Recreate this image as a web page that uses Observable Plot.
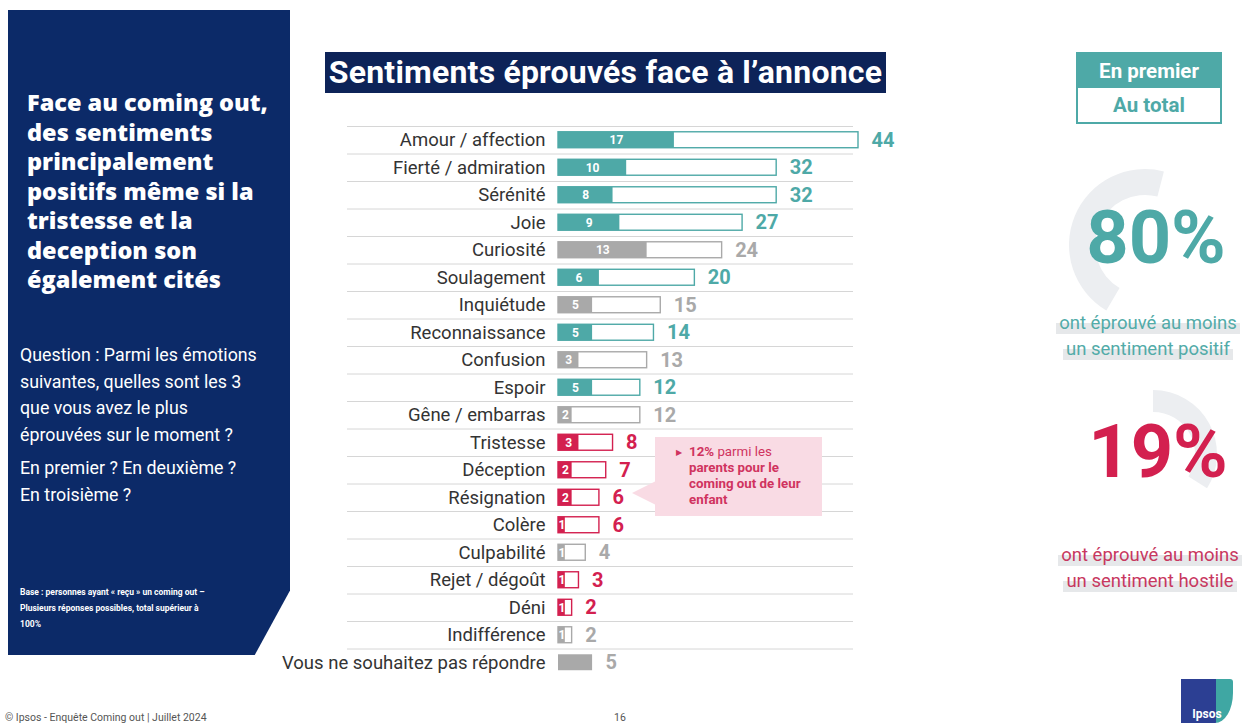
<!DOCTYPE html>
<html><head><meta charset="utf-8">
<script src="https://cdn.jsdelivr.net/npm/d3@7"></script>
<script src="https://cdn.jsdelivr.net/npm/@observablehq/plot@0.6"></script>
<style>
html,body{margin:0;padding:0;background:#fff;}
#page{position:relative;width:1258px;height:725px;overflow:hidden;font-family:Roboto,"Open Sans",sans-serif;}
.abs{position:absolute;}
#panel{left:8px;top:10px;width:282px;height:645px;background:#0c2a68;clip-path:polygon(0 0,100% 0,100% 90%,87.5% 100%,0 100%);}
#ptitle{left:27px;top:88px;width:262px;color:#fff;font-family:"Open Sans",sans-serif;font-weight:800;font-size:23.5px;line-height:29.5px;}
#pquest{left:20px;top:342px;width:268px;color:#fff;font-size:17.8px;line-height:26.5px;}
#pquest p{margin:0 0 7px 0;}
#pbase{left:20px;top:584px;width:262px;color:#fff;font-size:8.5px;line-height:16px;font-weight:700;}
#title{left:325px;top:52px;width:561px;height:41px;background:#0d2358;color:#fff;font-weight:700;font-size:32px;line-height:41px;text-align:center;white-space:nowrap;letter-spacing:0.2px;}
#legend{left:1076px;top:52px;width:146px;height:72px;box-sizing:border-box;border:2px solid #4ea9a7;font-weight:700;font-size:20.5px;text-align:center;}
#legend .a{height:34px;line-height:34px;background:#4ea9a7;color:#fff;}
#legend .b{height:34px;line-height:34px;color:#4ea9a7;}
.big{width:220px;text-align:center;font-weight:700;font-size:74px;line-height:72px;}
.sub{width:240px;text-align:center;font-size:18.5px;line-height:26px;}
.sub span{background:linear-gradient(to bottom,transparent 52%,#e6e8ea 52%);padding:0 3px;}
#callout{left:655px;top:437px;width:167px;height:79px;background:#f9dbe4;color:#d0335f;font-size:13.3px;line-height:16px;box-sizing:border-box;padding:7px 4px 0 34px;}
#callout .arr{position:absolute;left:21px;top:8px;font-size:8px;}
#pointer{left:632px;top:481px;width:0;height:0;border-top:12px solid transparent;border-bottom:12px solid transparent;border-right:24px solid #f9dbe4;}
#foot{left:5px;top:711px;font-size:10.5px;color:#555;}
#pnum{left:614px;top:711px;font-size:10.5px;color:#555;}
#logo{left:1181px;top:679px;width:52px;height:44px;background:linear-gradient(90deg,#2c3f93 68%,#3fa7a3 68%);border-top-right-radius:3px;border-bottom-right-radius:18px 30px;color:#fff;font-weight:700;font-size:12px;text-align:center;}
#logo span{position:absolute;left:0;right:0;bottom:2px;}
#chart{left:260px;top:120px;}
#deco{left:0;top:0;}
</style>
</head><body>
<div id="page">
  <div id="panel" class="abs"></div>
  <div id="ptitle" class="abs">Face au coming out,<br>des sentiments<br>principalement<br>positifs même si la<br>tristesse et la<br>deception son<br>également cités</div>
  <div id="pquest" class="abs"><p>Question : Parmi les émotions<br>suivantes, quelles sont les 3<br>que vous avez le plus<br>éprouvées sur le moment ?</p><p>En premier ? En deuxième ?<br>En troisième ?</p></div>
  <div id="pbase" class="abs">Base : personnes ayant « reçu » un coming out –<br>Plusieurs réponses possibles, total supérieur à<br>100%</div>
  <div id="title" class="abs">Sentiments éprouvés face à l’annonce</div>
  <div id="legend" class="abs"><div class="a">En premier</div><div class="b">Au total</div></div>
  <svg id="deco" class="abs" width="1258" height="725"></svg>
  <div class="abs big" style="left:1046px;top:202px;color:#4ea9a7;">80%</div>
  <div class="abs sub" style="left:1028px;top:310px;color:#52aba8;"><span>ont éprouvé au moins</span><br><span>un sentiment positif</span></div>
  <div class="abs big" style="left:1048px;top:416px;color:#d3204f;">19%</div>
  <div class="abs sub" style="left:1030px;top:542px;color:#c8385f;"><span>ont éprouvé au moins</span><br><span>un sentiment hostile</span></div>
  <div id="chart" class="abs"></div>
  <div id="pointer" class="abs"></div>
  <div id="callout" class="abs"><span class="arr">▶</span><b>12%</b> parmi les<br><b>parents pour le<br>coming out de leur<br>enfant</b></div>
  <div id="foot" class="abs">© Ipsos - Enquête Coming out | Juillet 2024</div>
  <div id="pnum" class="abs">16</div>
  <div id="logo" class="abs"><span>Ipsos</span></div>
</div>
<script>
const categories = ["Amour / affection","Fierté / admiration","Sérénité","Joie","Curiosité","Soulagement","Inquiétude","Reconnaissance","Confusion","Espoir","Gêne / embarras","Tristesse","Déception","Résignation","Colère","Culpabilité","Rejet / dégoût","Déni","Indifférence","Vous ne souhaitez pas répondre"];
const enPremier = [17,10,8,9,13,6,5,5,3,5,2,3,2,2,1,1,1,1,1,null];
const auTotal = [44,32,32,27,24,20,15,14,13,12,12,8,7,6,6,4,3,2,2,5];
const tonalite = ["positif","positif","positif","positif","neutre","positif","neutre","positif","neutre","positif","neutre","hostile","hostile","hostile","hostile","neutre","hostile","hostile","neutre","nsp"];
const tonalites = ["positif","neutre","hostile","nsp"];
const tonColors = ["#4ea9a7","#a9a9a9","#d3204f","#a9a9a9"];

const rows = categories.map((c,i)=>({cat:c, first:enPremier[i], total:auTotal[i], ton:tonalite[i]}));
const bars = rows.filter(d=>d.ton!=="nsp");
const nsp = rows.filter(d=>d.ton==="nsp");

const chart = Plot.plot({
  width:700, height:580, marginTop:0, marginBottom:0, marginLeft:87, marginRight:107,
  style:{fontFamily:"Roboto, sans-serif", overflow:"visible", background:"transparent"},
  x:{domain:[0,44], range:[298,598], axis:null},
  y:{domain:categories, range:[6,556], paddingInner:0.42, paddingOuter:0.21, round:false, axis:null},
  color:{domain:tonalites, range:tonColors},
  marks:[
    Plot.ruleY(categories, {y:d=>d, dy:-13.75, stroke:"#d6d6d6", strokeWidth:1}),
    Plot.barX(bars, {x:"total", y:"cat", fill:"white", stroke:"ton", strokeWidth:1.4}),
    Plot.barX(bars, {x:"first", y:"cat", fill:"ton"}),
    Plot.barX(nsp, {x:"total", y:"cat", fill:"ton"}),
    Plot.text(bars, {x:d=>d.first/2, y:"cat", text:d=>String(d.first), fill:"white", fontWeight:700, fontSize:12}),
    Plot.text(rows, {x:"total", y:"cat", text:d=>String(d.total), dx:13, textAnchor:"start", fill:"ton", fontWeight:700, fontSize:20}),
    Plot.text(rows, {x:()=>0, y:"cat", text:"cat", dx:-13, textAnchor:"end", fill:"#333", fontSize:18.5})
  ]
});
document.getElementById("chart").appendChild(chart);

// decorative rings behind the synthesis figures
const deco = d3.select("#deco");
deco.append("path").attr("transform","translate(1145,245)").attr("fill","#eceef1")
  .attr("d", d3.arc().innerRadius(50).outerRadius(76)({startAngle:-Math.PI*0.83, endAngle:Math.PI*0.08}));
deco.append("path").attr("transform","translate(1153,454)").attr("fill","#eceef1")
  .attr("d", d3.arc().innerRadius(42).outerRadius(64)({startAngle:0, endAngle:Math.PI*0.68}));
</script>
</body></html>
